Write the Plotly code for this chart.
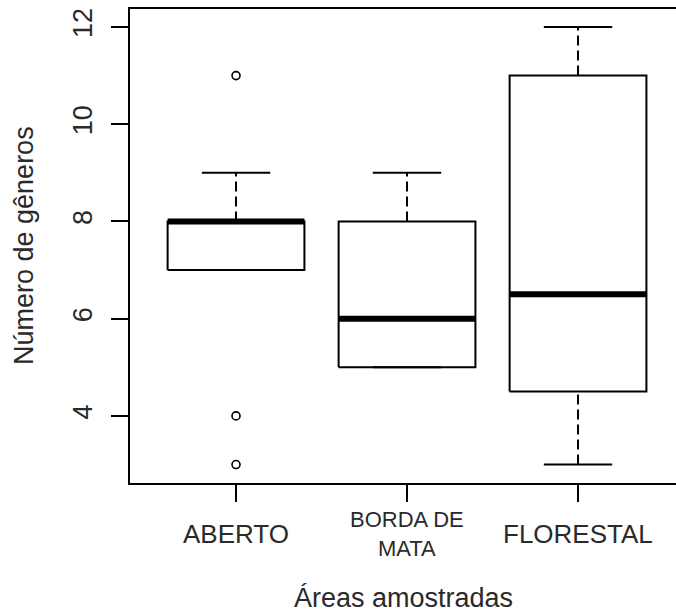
import plotly.graph_objects as go

# ---- data ----
categories = ["ABERTO", "BORDA DE<br>MATA", "FLORESTAL"]
label_sizes = [26, 22, 26]
positions = [1, 2, 3]
lower_whisker = [7, 5, 3]
q1 = [7, 5, 4.5]
median = [8, 6, 6.5]
q3 = [8, 8, 11]
upper_whisker = [9, 9, 12]
outliers = [[11, 4, 3], [], []]
y_ticks = [4, 6, 8, 10, 12]

FONT = "Liberation Sans, Arial, sans-serif"
TXT = "#2a2a2a"
HW = 0.4     # half box width
CW = 0.2     # half cap width

fig = go.Figure()

for i, c in enumerate(positions):
    # box
    fig.add_trace(go.Scatter(
        x=[c - HW, c + HW, c + HW, c - HW, c - HW],
        y=[q1[i], q1[i], q3[i], q3[i], q1[i]],
        mode="lines", line=dict(color="black", width=2),
        hoverinfo="skip", showlegend=False))
    # whiskers (dashed)
    for a, b in [(q3[i], upper_whisker[i]), (lower_whisker[i], q1[i])]:
        if a != b:
            fig.add_trace(go.Scatter(
                x=[c, c], y=[a, b], mode="lines",
                line=dict(color="black", width=2, dash="10px,5px"),
                hoverinfo="skip", showlegend=False))
    # caps
    for v in [upper_whisker[i], lower_whisker[i]]:
        fig.add_trace(go.Scatter(
            x=[c - CW, c + CW], y=[v, v], mode="lines",
            line=dict(color="black", width=2),
            hoverinfo="skip", showlegend=False))
    # median
    fig.add_trace(go.Scatter(
        x=[c - HW, c + HW], y=[median[i], median[i]], mode="lines",
        line=dict(color="black", width=6),
        hoverinfo="skip", showlegend=False))
    # outliers
    if outliers[i]:
        fig.add_trace(go.Scatter(
            x=[c] * len(outliers[i]), y=outliers[i], mode="markers",
            marker=dict(symbol="circle-open", size=8, color="black",
                        line=dict(width=1.6, color="black")),
            hoverinfo="skip", showlegend=False))

# x category labels as annotations (vertically centred like R)
for i, c in enumerate(positions):
    fig.add_annotation(
        x=c, xref="x", y=0, yref="paper", yshift=-51,
        text=categories[i], showarrow=False,
        xanchor="center", yanchor="middle",
        font=dict(family=FONT, size=label_sizes[i], color=TXT))

# axis titles
fig.add_annotation(
    x=0.5, xref="paper", xshift=0, y=0, yref="paper", yshift=-115,
    text="Áreas amostradas", showarrow=False,
    xanchor="center", yanchor="middle",
    font=dict(family=FONT, size=27, color=TXT))
fig.add_annotation(
    x=0, xref="paper", xshift=-106, y=0.5, yref="paper",
    text="Número de gêneros", showarrow=False, textangle=-90,
    xanchor="center", yanchor="middle",
    font=dict(family=FONT, size=27, color=TXT))

fig.update_layout(
    width=676, height=614,
    margin=dict(l=130, r=0, t=9, b=131),
    paper_bgcolor="white", plot_bgcolor="white",
    font=dict(family=FONT, color=TXT),
    xaxis=dict(
        range=[0.38, 3.573], showgrid=False, zeroline=False,
        showline=True, mirror=True, linecolor="black", linewidth=2,
        tickmode="array", tickvals=positions, showticklabels=False,
        ticks="outside", ticklen=17, tickwidth=2, tickcolor="black"),
    yaxis=dict(
        range=[2.62, 12.37], showgrid=False, zeroline=False,
        showline=True, mirror=False, linecolor="black", linewidth=2,
        tickmode="array", tickvals=y_ticks, ticktext=[str(v) for v in y_ticks],
        ticks="outside", ticklen=17, tickwidth=2, tickcolor="black",
        tickangle=-90, ticklabelstandoff=8,
        tickfont=dict(family=FONT, size=27, color=TXT)),
)

fig.write_html("out.html")
